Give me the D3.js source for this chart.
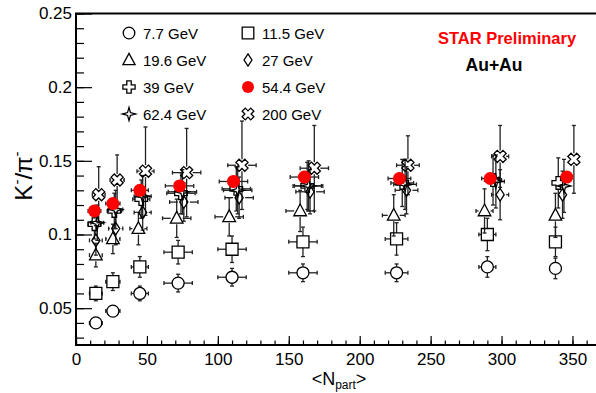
<!DOCTYPE html>
<html>
<head>
<meta charset="utf-8">
<script src="https://cdn.jsdelivr.net/npm/d3@7"></script>
<style>
body { margin: 0; background: #fff; }
svg text { font-family: "Liberation Sans", Arial, Helvetica, sans-serif; fill: #000; }
</style>
</head>
<body>
<div class="vis-ratio"></div>
<script>
// K-/pi- ratio vs <Npart>, one array per beam energy
const energies = ["7.7 GeV", "11.5 GeV", "19.6 GeV", "27 GeV", "39 GeV", "54.4 GeV", "62.4 GeV", "200 GeV"];
const shapes = ["circle", "square", "triangle", "diamond", "plus", "dot", "star", "xcross"];

const npart7 = [14, 26, 45, 72, 110, 160, 226, 290, 338];
const ratio7 = [0.040, 0.048, 0.060, 0.067, 0.071, 0.074, 0.074, 0.078, 0.077];
const err7 = [0.002, 0.004, 0.005, 0.006, 0.006, 0.006, 0.006, 0.007, 0.007];

const npart11 = [14, 26, 45, 72, 110, 160, 226, 290, 338];
const ratio11 = [0.060, 0.068, 0.078, 0.088, 0.090, 0.095, 0.097, 0.100, 0.095];
const err11 = [0.005, 0.006, 0.007, 0.008, 0.009, 0.010, 0.011, 0.011, 0.010];

const npart19 = [14, 26, 44, 71, 108, 158, 224, 288, 338];
const ratio19 = [0.086, 0.097, 0.104, 0.111, 0.112, 0.116, 0.113, 0.116, 0.113];
const err19 = [0.008, 0.010, 0.011, 0.013, 0.013, 0.014, 0.014, 0.015, 0.015];

const npart27 = [14, 28, 47, 76, 115, 165, 233, 299, 343];
const ratio27 = [0.096, 0.104, 0.115, 0.122, 0.125, 0.129, 0.130, 0.127, 0.127];
const err27 = [0.010, 0.011, 0.012, 0.013, 0.014, 0.015, 0.016, 0.017, 0.016];

const npart39 = [13, 27, 46, 74, 113, 163, 230, 294, 340];
const ratio39 = [0.107, 0.116, 0.124, 0.128, 0.131, 0.133, 0.135, 0.137, 0.135];
const err39 = [0.010, 0.012, 0.013, 0.014, 0.015, 0.016, 0.016, 0.017, 0.017];

const npart54 = [13, 26, 45, 73, 111, 161, 228, 292, 346];
const ratio54 = [0.116, 0.121, 0.130, 0.133, 0.136, 0.139, 0.138, 0.138, 0.139];
const err54 = [0.002, 0.002, 0.002, 0.002, 0.002, 0.002, 0.002, 0.002, 0.002];

const npart62 = [15, 28, 47, 75, 114, 164, 232, 296, 344];
const ratio62 = [0.108, 0.117, 0.126, 0.129, 0.130, 0.133, 0.134, 0.136, 0.133];
const err62 = [0.012, 0.013, 0.014, 0.015, 0.016, 0.017, 0.017, 0.018, 0.018];

const npart200 = [16, 29, 49, 78, 117, 168, 234, 299, 351];
const ratio200 = [0.127, 0.137, 0.143, 0.142, 0.147, 0.145, 0.147, 0.153, 0.151];
const err200 = [0.019, 0.017, 0.030, 0.030, 0.030, 0.029, 0.020, 0.021, 0.023];

// horizontal (Npart) errors, same for every energy
const npartErr = [4.5, 5, 6, 10, 10, 10, 8, 6, 3];

const xTicks = [0, 50, 100, 150, 200, 250, 300, 350];
const xTickLabels = ["0", "50", "100", "150", "200", "250", "300", "350"];
const yTicks = [0.05, 0.1, 0.15, 0.2, 0.25];
const yTickLabels = ["0.05", "0.1", "0.15", "0.2", "0.25"];

const seriesData = [
    [npart7, ratio7, err7], [npart11, ratio11, err11], [npart19, ratio19, err19],
    [npart27, ratio27, err27], [npart39, ratio39, err39], [npart54, ratio54, err54],
    [npart62, ratio62, err62], [npart200, ratio200, err200]
];

const series = energies.map(function(name, i){
    const [np, r, e] = seriesData[i];
    return {
        name: name,
        shape: shapes[i],
        points: np.map(function(n, j){
            return {n: n, v: r[j], ey: e[j], ex: npartErr[j]};
        })
    };
});

const width = 596, height = 393;
const frameLeft = 76, frameRight = 598, frameTop = 13.5, frameBottom = 345;

const svg = d3.select('.vis-ratio')
    .append('svg')
    .attr('width', width)
    .attr('height', height);

const xScale = d3.scaleLinear().domain([0, 368]).range([frameLeft, frameRight]);
const yScale = d3.scaleLinear().domain([0.025, 0.25]).range([frameBottom, frameTop]);

// marker outlines, centred on 0,0
function markerPath(shape, s){
    const p = d3.path();
    if(shape === "circle" || shape === "dot"){
        p.arc(0, 0, s, 0, 2 * Math.PI);
    } else if(shape === "square"){
        p.rect(-s, -s, 2 * s, 2 * s);
    } else if(shape === "triangle"){
        p.moveTo(0, -s * 1.15); p.lineTo(s * 1.05, s * 0.8); p.lineTo(-s * 1.05, s * 0.8); p.closePath();
    } else if(shape === "diamond"){
        p.moveTo(0, -s * 1.05); p.lineTo(s * 0.68, 0); p.lineTo(0, s * 1.05); p.lineTo(-s * 0.68, 0); p.closePath();
    } else if(shape === "star"){
        const q = s * 0.25;
        p.moveTo(0, -s * 1.15); p.lineTo(q, -q); p.lineTo(s * 1.15, 0); p.lineTo(q, q);
        p.lineTo(0, s * 1.15); p.lineTo(-q, q); p.lineTo(-s * 1.15, 0); p.lineTo(-q, -q); p.closePath();
    } else {
        // open cross (plus) or rotated cross
        const a = s * 0.38, b = s * 1.05;
        const pts = [[-a, -b], [a, -b], [a, -a], [b, -a], [b, a], [a, a], [a, b], [-a, b], [-a, a], [-b, a], [-b, -a], [-a, -a]];
        const rot = shape === "xcross" ? Math.PI / 4 : 0;
        pts.forEach(function(pt, k){
            const xx = pt[0] * Math.cos(rot) - pt[1] * Math.sin(rot);
            const yy = pt[0] * Math.sin(rot) + pt[1] * Math.cos(rot);
            if(k === 0) p.moveTo(xx, yy); else p.lineTo(xx, yy);
        });
        p.closePath();
    }
    return p.toString();
}

// Axes: ticks point into the frame like ROOT
svg.append("g")
    .attr("transform", "translate(0," + frameBottom + ")")
    .call(d3.axisBottom(xScale).tickValues(d3.range(0, 361, 10)).tickSize(-4.5).tickFormat(""))
    .call(g => g.select(".domain").remove())
    .selectAll("line").attr("stroke", "#000").attr("stroke-width", 1.2);

svg.append("g")
    .attr("transform", "translate(0," + frameBottom + ")")
    .call(d3.axisBottom(xScale).tickValues(xTicks).tickSize(-9).tickPadding(8)
        .tickFormat(function(d, i){ return xTickLabels[i]; }))
    .call(g => g.select(".domain").remove())
    .call(g => g.selectAll("line").attr("stroke", "#000").attr("stroke-width", 1.2))
    .call(g => g.selectAll("text").attr("font-size", 17).attr("fill", "#000")
        .attr("font-family", "'Liberation Sans', Arial, sans-serif"));

svg.append("g")
    .attr("transform", "translate(" + frameLeft + ",0)")
    .call(d3.axisLeft(yScale).tickValues(d3.range(0.03, 0.2501, 0.01)).tickSize(-8).tickFormat(""))
    .call(g => g.select(".domain").remove())
    .selectAll("line").attr("stroke", "#000").attr("stroke-width", 1.2);

svg.append("g")
    .attr("transform", "translate(" + frameLeft + ",0)")
    .call(d3.axisLeft(yScale).tickValues(yTicks).tickSize(-16).tickPadding(4)
        .tickFormat(function(d, i){ return yTickLabels[i]; }))
    .call(g => g.select(".domain").remove())
    .call(g => g.selectAll("line").attr("stroke", "#000").attr("stroke-width", 1.2))
    .call(g => g.selectAll("text").attr("font-size", 17).attr("fill", "#000")
        .attr("font-family", "'Liberation Sans', Arial, sans-serif"));

// frame (right edge falls just outside the picture)
svg.append("rect")
    .attr("x", frameLeft).attr("y", frameTop)
    .attr("width", frameRight - frameLeft).attr("height", frameBottom - frameTop)
    .attr("fill", "none").attr("stroke", "#000").attr("stroke-width", 2);

// Error bars, with a gap where the marker sits
const msize = 6;
const bars = svg.append("g").attr("stroke", "#222").attr("stroke-width", 1.3);
const cap = 2;
series.forEach(function(s){
    s.points.forEach(function(d){
        const cx = xScale(d.n), cy = yScale(d.v);
        const up = yScale(d.v + d.ey), dn = yScale(d.v - d.ey);
        const lx = xScale(d.n - d.ex), rx = xScale(d.n + d.ex);
        if(cy - up > msize){
            bars.append("line").attr("x1", cx).attr("x2", cx).attr("y1", up).attr("y2", cy - msize);
            bars.append("line").attr("x1", cx).attr("x2", cx).attr("y1", dn).attr("y2", cy + msize);
            bars.append("line").attr("x1", cx - cap).attr("x2", cx + cap).attr("y1", up).attr("y2", up);
            bars.append("line").attr("x1", cx - cap).attr("x2", cx + cap).attr("y1", dn).attr("y2", dn);
        }
        if(cx - lx > msize){
            bars.append("line").attr("x1", lx).attr("x2", cx - msize).attr("y1", cy).attr("y2", cy);
            bars.append("line").attr("x1", cx + msize).attr("x2", rx).attr("y1", cy).attr("y2", cy);
            bars.append("line").attr("x1", lx).attr("x2", lx).attr("y1", cy - cap).attr("y2", cy + cap);
            bars.append("line").attr("x1", rx).attr("x2", rx).attr("y1", cy - cap).attr("y2", cy + cap);
        }
    });
});

// Markers, the filled 54.4 GeV series goes on top
const drawOrder = [0, 1, 2, 3, 4, 6, 7, 5];
drawOrder.forEach(function(i){
    const s = series[i];
    const filled = s.shape === "dot";
    svg.append("g")
        .selectAll("path")
        .data(s.points)
        .enter()
        .append("path")
        .attr("transform", function(d){ return "translate(" + xScale(d.n) + "," + yScale(d.v) + ")"; })
        .attr("d", markerPath(s.shape, filled ? 6.5 : msize))
        .attr("fill", filled ? "#ff0000" : "none")
        .attr("stroke", filled ? "none" : "#000")
        .attr("stroke-width", 1.3);
});

// Legend, two columns
const legend = svg.append("g");
series.forEach(function(s, i){
    const col = i % 2, row = Math.floor(i / 2);
    const mx = col === 0 ? 129 : 248;
    const my = 33 + row * 27;
    const filled = s.shape === "dot";
    legend.append("path")
        .attr("transform", "translate(" + mx + "," + my + ")")
        .attr("d", markerPath(s.shape, filled ? 6 : 5.8))
        .attr("fill", filled ? "#ff0000" : "none")
        .attr("stroke", filled ? "none" : "#000")
        .attr("stroke-width", 1.3);
    legend.append("text")
        .attr("x", mx + 14)
        .attr("y", my + 5.5)
        .attr("font-size", 15)
        .text(s.name);
});

svg.append("text")
    .attr("x", 507).attr("y", 44)
    .attr("text-anchor", "middle")
    .attr("font-size", 16.5)
    .attr("font-weight", "bold")
    .style("fill", "#ff0000")
    .text("STAR Preliminary");

svg.append("text")
    .attr("x", 494).attr("y", 71)
    .attr("text-anchor", "middle")
    .attr("font-size", 17.5)
    .attr("font-weight", "bold")
    .text("Au+Au");

// axis titles
const yTitle = svg.append("text")
    .attr("transform", "translate(32,176) rotate(-90)")
    .attr("text-anchor", "middle")
    .attr("font-size", 24);
yTitle.append("tspan").text("K");
yTitle.append("tspan").attr("font-size", 15).attr("dy", -10).text("-");
yTitle.append("tspan").attr("dy", 10).text("/π");
yTitle.append("tspan").attr("font-size", 15).attr("dy", -10).text("-");

const xTitle = svg.append("text")
    .attr("x", 339).attr("y", 385)
    .attr("text-anchor", "middle")
    .attr("font-size", 18);
xTitle.append("tspan").text("<N");
xTitle.append("tspan").attr("font-size", 12).attr("dy", 4).text("part");
xTitle.append("tspan").attr("dy", -4).text(">");
</script>
</body>
</html>
